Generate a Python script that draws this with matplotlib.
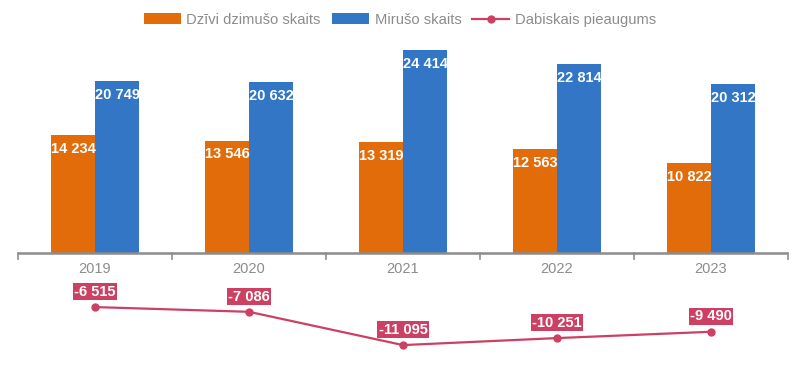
import numpy as np
import matplotlib
matplotlib.use("Agg")
import matplotlib.pyplot as plt

# -----------------------------
# Data
# -----------------------------
years = ["2019", "2020", "2021", "2022", "2023"]
births = [14234, 13546, 13319, 12563, 10822]
deaths = [20749, 20632, 24414, 22814, 20312]
natural = [-6515, -7086, -11095, -10251, -9490]

ORANGE = "#E36C0A"
BLUE = "#3276C5"
CRIMSON = "#CC4163"
GREY = "#8C8C8C"

plt.rcParams["font.family"] = ["Liberation Sans", "DejaVu Sans"]


def fmt(v):
    return f"{v:,}".replace(",", " ")


fig = plt.figure(figsize=(8.02, 3.68), dpi=100)
# axes from px x=18..788, y=40..360
ax = fig.add_axes([18 / 802, 8 / 368, 770 / 802, 320 / 368])

scale = 0.0083  # px per unit
ymax = (253 - 40) / scale
ymin = -(360 - 253) / scale
ax.set_ylim(ymin, ymax)
ax.set_xlim(-0.5, len(years) - 0.5)

x = np.arange(len(years))
w = 0.286
b1 = ax.bar(x - w / 2, births, w, color=ORANGE, label="Dzīvi dzimušo skaits")
b2 = ax.bar(x + w / 2, deaths, w, color=BLUE, label="Mirušo skaits")

for bars, vals in ((b1, births), (b2, deaths)):
    for r, v in zip(bars, vals):
        ax.annotate(fmt(v), (r.get_x() + r.get_width() / 2, v),
                    xytext=(0, -10), textcoords="offset points",
                    ha="center", va="center", color="white",
                    fontsize=10.5, fontweight="bold")

ln, = ax.plot(x, natural, color=CRIMSON, lw=1.6, marker="o", ms=5,
              label="Dabiskais pieaugums")
for xi, v in zip(x, natural):
    ax.annotate(fmt(v), (xi, v), xytext=(0, 11), textcoords="offset points",
                ha="center", va="center", color="white", fontsize=10.5,
                fontweight="bold",
                bbox=dict(boxstyle="square,pad=0.1", fc=CRIMSON, ec="none"))

# baseline axis with category ticks
ax.axhline(0, color=GREY, lw=1.8, zorder=3)
for xb in np.arange(-0.5, len(years), 1.0):
    ax.plot([xb, xb], [0, -6 / scale], color=GREY, lw=1.2, clip_on=False)
for xi, yr in zip(x, years):
    ax.text(xi, -16 / scale, yr, ha="center", va="center", color="#8C8C8C",
            fontsize=10.5)

for s in ax.spines.values():
    s.set_visible(False)
ax.set_xticks([])
ax.set_yticks([])

fig.legend(handles=[b1, b2, ln], loc="center", bbox_to_anchor=(400 / 802, 1 - 20 / 368),
           ncol=3, frameon=False, fontsize=10.6, labelcolor="#8C8C8C",
           handlelength=2.5, handleheight=0.75, columnspacing=0.75, handletextpad=0.4)

fig.savefig("out.png", dpi=100)
